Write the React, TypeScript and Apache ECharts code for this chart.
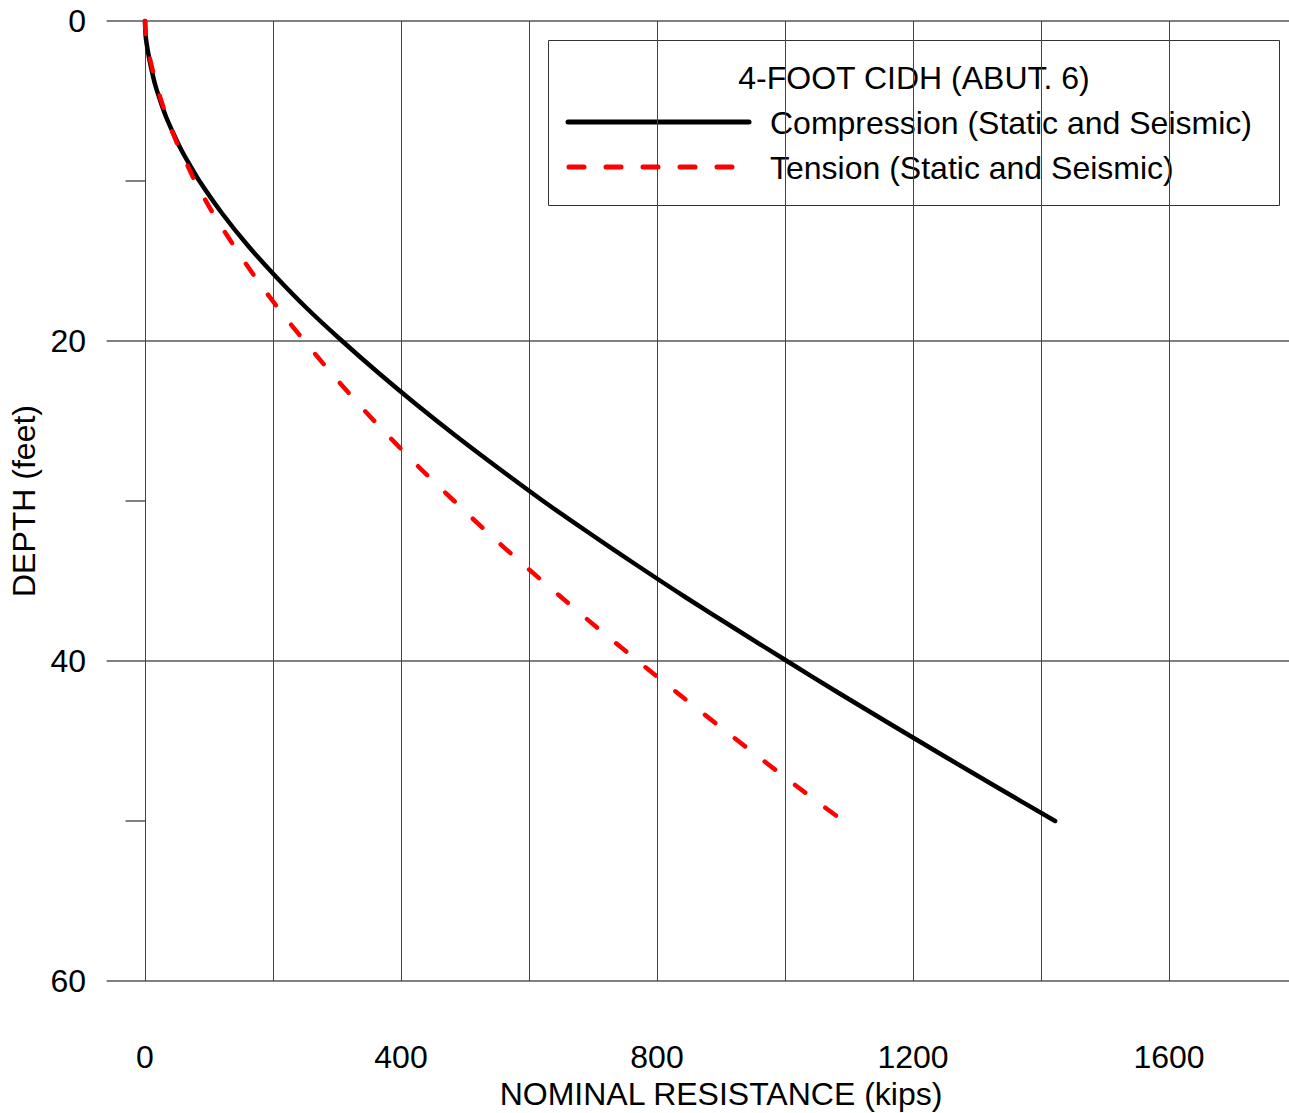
import React, { useEffect, useRef } from 'react';
import * as echarts from 'echarts';

const depthFt = [0, 1, 2, 3, 4, 5, 6, 7, 8, 9, 10, 12, 14, 16, 18, 20, 22, 24, 26, 28, 30, 32, 34, 36, 38, 40, 42, 44, 46, 48, 50];
const compressionKips = [0, 1.2, 5, 10, 16, 24, 33, 44, 56, 70, 85, 120, 160, 205, 254, 308, 365, 425, 488, 554, 622, 694, 768, 844, 923, 1003, 1084, 1167, 1251, 1336, 1422];
const tensionKips = [0, 1.6, 5.8, 11.5, 18, 25.5, 34, 43.5, 54, 66, 78, 106, 138, 172, 209, 249, 291, 335, 382, 431, 483, 536, 592, 650, 709, 770, 832, 895, 959, 1024, 1091];
const xTickLabels = [0, 400, 800, 1200, 1600];
const yTickLabels = [0, 20, 40, 60];
const legendTitle = '4-FOOT CIDH (ABUT. 6)';
const seriesNames = ['Compression (Static and Seismic)', 'Tension (Static and Seismic)'];
const xAxisName = 'NOMINAL RESISTANCE (kips)';
const yAxisName = 'DEPTH (feet)';

const FONT = "'Liberation Sans', Arial, Helvetica, sans-serif";
const HGRID = '#808080';
const VGRID = '#444444';

export default function App() {
  const ref = useRef<HTMLDivElement>(null);
  useEffect(() => {
    if (!ref.current) return;
    const chart = echarts.init(ref.current, null, { renderer: 'svg' });
    const textStyle = { fontFamily: FONT, fontSize: 32, color: '#000' };
    const plain = (v: number) => String(v);
    chart.setOption({
      animation: false,
      backgroundColor: '#fff',
      textStyle: { fontFamily: FONT },
      grid: { left: 145, top: 21, width: 1152, height: 960, containLabel: false, outerBoundsMode: 'none' },
      xAxis: [
        {
          type: 'value', min: 0, max: 1800, interval: 200, position: 'bottom',
          axisLine: { show: false },
          axisTick: { show: true, length: 20, lineStyle: { color: VGRID, width: 1 } },
          axisLabel: { show: false },
          splitLine: { show: true, lineStyle: { color: VGRID, width: 1 } },
        },
        {
          type: 'value', min: 0, max: 1800, interval: 400, position: 'bottom',
          axisLine: { show: false },
          axisTick: { show: true, length: 39, lineStyle: { color: VGRID, width: 1 } },
          axisLabel: { customValues: xTickLabels, formatter: plain, margin: 60, ...textStyle, lineHeight: 32 },
          splitLine: { show: false },
          name: xAxisName, nameLocation: 'middle', nameGap: 95,
          nameTextStyle: { ...textStyle, lineHeight: 32 },
        },
      ],
      yAxis: [
        {
          type: 'value', inverse: true, min: 0, max: 60, interval: 20, position: 'left',
          axisLine: { show: false },
          axisTick: { show: true, length: 38.4, lineStyle: { color: HGRID, width: 2 } },
          axisLabel: { customValues: yTickLabels, formatter: plain, margin: 59, ...textStyle },
          splitLine: { show: true, lineStyle: { color: HGRID, width: 2 } },
          name: yAxisName, nameLocation: 'middle', nameGap: 104, nameRotate: 90,
          nameTextStyle: { ...textStyle, lineHeight: 32 },
        },
        {
          type: 'value', inverse: true, min: 0, max: 60, interval: 10, position: 'left',
          axisLine: { show: false },
          axisTick: { show: true, length: 19.4, lineStyle: { color: HGRID, width: 2 } },
          axisLabel: { show: false },
          splitLine: { show: false },
        },
      ],
      series: [
        {
          type: 'line', name: seriesNames[0], xAxisIndex: 0, yAxisIndex: 0,
          data: depthFt.map((d, i) => [compressionKips[i], d]),
          symbol: 'none', smooth: 0.3, clip: false,
          lineStyle: { color: '#000', width: 4.5, cap: 'round', join: 'round' },
          z: 3,
        },
        {
          type: 'line', name: seriesNames[1], xAxisIndex: 0, yAxisIndex: 0,
          data: depthFt.map((d, i) => [tensionKips[i], d]),
          symbol: 'none', smooth: 0.3, clip: false,
          lineStyle: { color: '#ff0000', width: 4.5, type: [13, 25], cap: 'round', join: 'round' },
          z: 4,
        },
      ],
      graphic: [
        {
          type: 'group', z: 100, children: [
            { type: 'rect', shape: { x: 548.5, y: 40.5, width: 731, height: 165 }, style: { fill: '#fff', stroke: '#333', lineWidth: 1 } },
            { type: 'text', x: 914, y: 78, style: { text: legendTitle, textAlign: 'center', textVerticalAlign: 'middle', font: `32px ${FONT}`, fill: '#000' } },
            { type: 'line', shape: { x1: 568, y1: 122, x2: 749, y2: 122 }, style: { stroke: '#000', lineWidth: 5, lineCap: 'round' } },
            { type: 'text', x: 770, y: 123, style: { text: seriesNames[0], textAlign: 'left', textVerticalAlign: 'middle', font: `32px ${FONT}`, fill: '#000' } },
            { type: 'line', shape: { x1: 569, y1: 167, x2: 734, y2: 167 }, style: { stroke: '#ff0000', lineWidth: 5, lineCap: 'round', lineDash: [15, 22] } },
            { type: 'text', x: 770, y: 168, style: { text: seriesNames[1], textAlign: 'left', textVerticalAlign: 'middle', font: `32px ${FONT}`, fill: '#000' } },
          ],
        },
      ],
    });
    return () => chart.dispose();
  }, []);
  return (
    <div
      ref={ref}
      style={{ position: 'absolute', left: 0, top: 0, width: 1289, height: 1113, background: '#fff' }}
    />
  );
}
